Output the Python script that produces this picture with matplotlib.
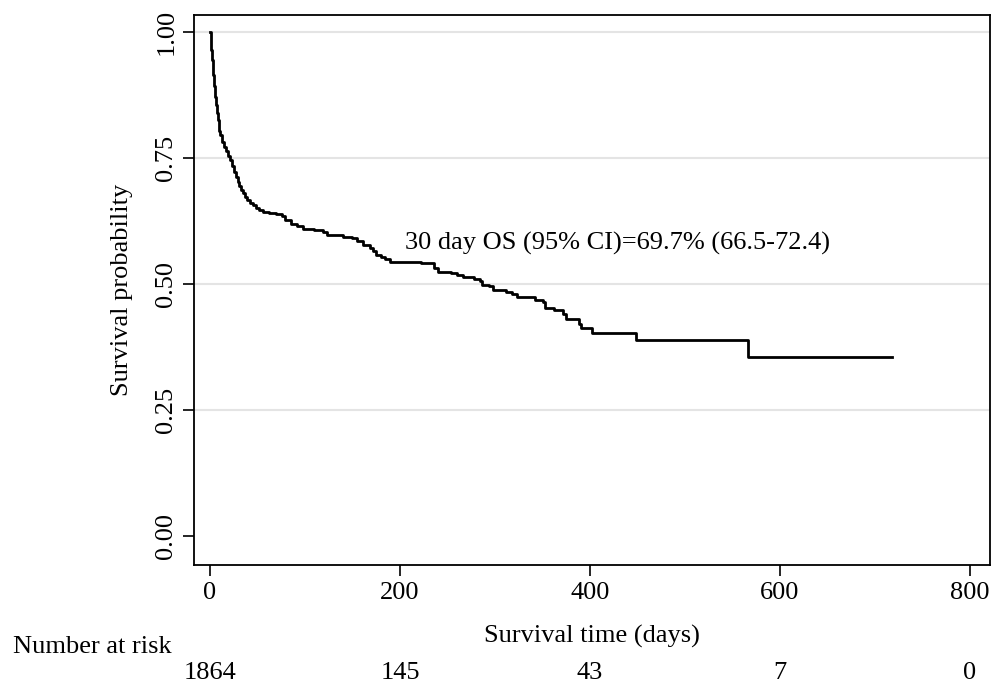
import numpy as np
import matplotlib.pyplot as plt
from matplotlib.transforms import blended_transform_factory

# Kaplan-Meier estimate (step, post)
times = [0, 1.5, 2, 3, 4, 5, 6, 7, 8, 9, 10, 11, 13, 15, 17, 19, 21, 23, 25, 27,
         29, 31, 33, 35, 37, 39, 42, 45, 48, 52, 56, 62, 70, 76, 79, 85, 92, 98,
         110, 119, 123, 140, 149, 155, 161, 168, 172, 175, 180, 184, 189, 222,
         236, 240, 254, 260, 266, 278, 284, 286, 294, 298, 312, 318, 323, 342,
         351, 353, 362, 372, 375, 388, 391, 402, 449, 566, 718]
surv = [1.0, 0.965, 0.945, 0.915, 0.893, 0.872, 0.855, 0.840, 0.826, 0.814, 0.803,
        0.795, 0.782, 0.772, 0.763, 0.754, 0.746, 0.735, 0.722, 0.713, 0.702,
        0.695, 0.687, 0.680, 0.673, 0.666, 0.661, 0.656, 0.651, 0.646, 0.642,
        0.640, 0.638, 0.634, 0.626, 0.620, 0.615, 0.610, 0.607, 0.604, 0.597,
        0.594, 0.591, 0.585, 0.577, 0.571, 0.565, 0.558, 0.554, 0.550, 0.544,
        0.541, 0.531, 0.524, 0.521, 0.518, 0.514, 0.510, 0.505, 0.498, 0.495,
        0.488, 0.485, 0.480, 0.475, 0.468, 0.465, 0.452, 0.449, 0.440, 0.430,
        0.421, 0.412, 0.403, 0.389, 0.354, 0.354]

risk_times = [0, 200, 400, 600, 800]
at_risk = ['1864', '145', '43', '7', '0']
y_ticks = [0.0, 0.25, 0.5, 0.75, 1.0]
y_ticklabels = ['0.00', '0.25', '0.50', '0.75', '1.00']

plt.rcParams['font.family'] = ['Liberation Serif', 'DejaVu Serif']
fs = 19

fig = plt.figure(figsize=(10.08, 6.88), dpi=100)
ax = fig.add_axes([0.1925, 0.1788, 0.7895, 0.7994])

for g in y_ticks[1:]:
    ax.axhline(g, color='#e4e4e4', lw=1.5, zorder=0)

ax.step(times, surv, where='post', color='black', lw=2.0)

ax.set_xlim(-16.8, 821)
ax.set_ylim(-0.058, 1.034)
ax.set_xticks(risk_times)
ax.set_yticks(y_ticks)
ax.set_yticklabels(y_ticklabels, rotation=90, va='center')
ax.tick_params(labelsize=fs, length=8, width=1.2, color='black', pad=4)
for s in ax.spines.values():
    s.set_linewidth(1.3)

ax.set_ylabel('Survival probability', fontsize=fs, labelpad=16)
ax.set_xlabel('Survival time (days)', fontsize=fs, labelpad=15)

ax.text(205, 0.581, '30 day OS (95% CI)=69.7% (66.5-72.4)', fontsize=fs,
        va='center', ha='left')

# number at risk table below the axis
tr = blended_transform_factory(ax.transData, fig.transFigure)
fig.text(0.013, 1 - 647 / 688, 'Number at risk', fontsize=fs, va='center', ha='left')
for t, n in zip(risk_times, at_risk):
    ax.text(t, 1 - 673 / 688, n, transform=tr, fontsize=fs, va='center', ha='center')

fig.savefig('out.png', dpi=100)
